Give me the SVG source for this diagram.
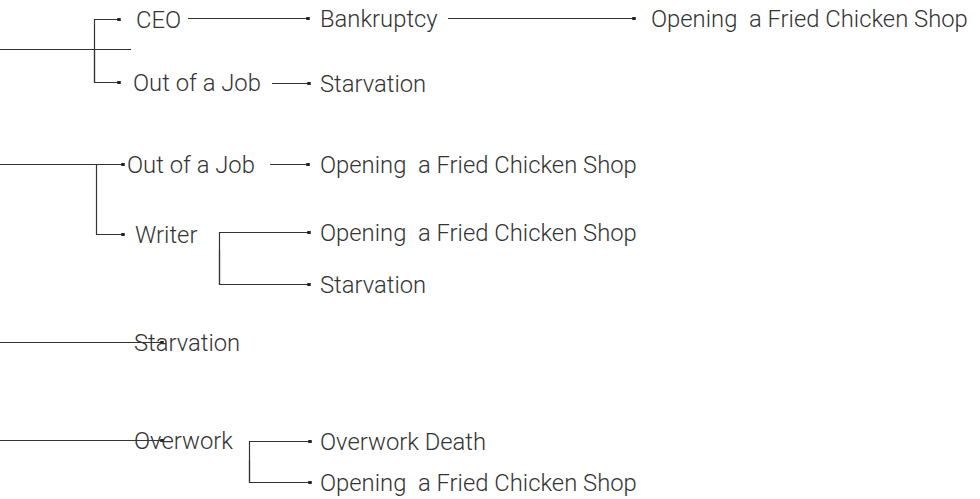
<svg xmlns="http://www.w3.org/2000/svg" width="980" height="499" viewBox="0 0 980 499">
  <defs>
    <marker id="dot" viewBox="0 0 4 4" refX="2" refY="2" markerWidth="3.5" markerHeight="3.5" markerUnits="userSpaceOnUse" orient="auto">
      <rect x="0" y="0" width="4" height="4" fill="#222"/>
    </marker>
    <style>
      .ln { fill: none; stroke: #333; stroke-width: 1.2; }
      .ar { marker-end: url(#dot); }
      text { font-family: Roboto, "Liberation Sans", sans-serif; font-weight: 300; font-size: 23.8px; fill: #333; white-space: pre; }
    </style>
  </defs>

  <g id="connectors">
    <!-- branch 1 -->
    <path class="ln" d="M0 49.5 H131"/>
    <path class="ln ar" d="M94.5 82 V19.5 H119"/>
    <path class="ln ar" d="M94.5 50 V82.5 H119"/>
    <path class="ln ar" d="M188 18.5 H308"/>
    <path class="ln ar" d="M448 18.5 H634"/>
    <path class="ln ar" d="M272 83.5 H309"/>
    <!-- branch 2 -->
    <path class="ln ar" d="M0 164.5 H123"/>
    <path class="ln ar" d="M96.5 164.5 V234.5 H123"/>
    <path class="ln ar" d="M270 164.5 H308"/>
    <path class="ln ar" d="M219.5 284.5 V232.5 H309"/>
    <path class="ln ar" d="M219.5 250 V284.5 H309"/>
    <!-- branch 3 -->
    <path class="ln ar" d="M0 342.5 H162"/>
    <!-- branch 4 -->
    <path class="ln ar" d="M0 440.5 H162"/>
    <path class="ln ar" d="M249.5 482.5 V441.5 H310"/>
    <path class="ln ar" d="M249.5 460 V482.5 H310"/>
  </g>

  <g id="n-ceo"><text x="136" y="27.5">CEO</text></g>
  <g id="n-bankruptcy"><text x="320" y="26.5">Bankruptcy</text></g>
  <g id="n-shop-1"><text x="651" y="26.5">Opening  a Fried Chicken Shop</text></g>
  <g id="n-jobless-1"><text x="133" y="90.5">Out of a Job</text></g>
  <g id="n-starvation-1"><text x="320" y="91.5">Starvation</text></g>

  <g id="n-jobless-2"><text x="127" y="172.5">Out of a Job</text></g>
  <g id="n-shop-2"><text x="320" y="172.5">Opening  a Fried Chicken Shop</text></g>
  <g id="n-writer"><text x="135" y="242.5">Writer</text></g>
  <g id="n-shop-3"><text x="320" y="240.5">Opening  a Fried Chicken Shop</text></g>
  <g id="n-starvation-2"><text x="320" y="292.5">Starvation</text></g>

  <g id="n-starvation-3"><text x="134" y="350.5">Starvation</text></g>

  <g id="n-overwork"><text x="134" y="448.5">Overwork</text></g>
  <g id="n-overwork-death"><text x="320" y="449.5">Overwork Death</text></g>
  <g id="n-shop-4"><text x="320" y="490.5">Opening  a Fried Chicken Shop</text></g>
</svg>
